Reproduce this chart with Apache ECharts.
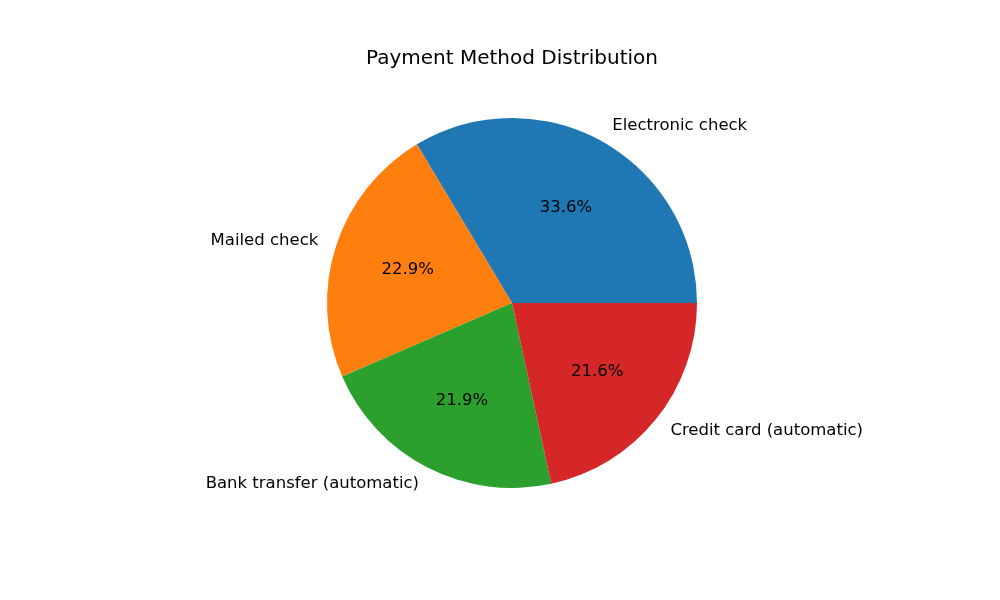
<!DOCTYPE html>
<html>
<head>
<meta charset="utf-8">
<script src="https://cdn.jsdelivr.net/npm/echarts@6/dist/echarts.min.js"></script>
<style>
  html, body { margin: 0; padding: 0; background: #fff; }
  #chart { width: 1000px; height: 600px; }
</style>
</head>
<body>
<div id="chart"></div>
<script>
// pie data
const categories = ['Electronic check', 'Mailed check', 'Bank transfer (automatic)', 'Credit card (automatic)']
const shares = [33.6, 22.9, 21.9, 21.6]
const colors = ['#1f77b4', '#ff7f0e', '#2ca02c', '#d62728']

const cx = 512, cy = 303, R = 185
const font = 'DejaVu Sans'

const chart = echarts.init(document.getElementById('chart'))

const pieData = categories.map((name, i) => ({
  name: name,
  value: shares[i],
  itemStyle: { color: colors[i] }
}))

chart.setOption({
  animation: false,
  title: {
    text: 'Payment Method Distribution',
    left: 507,
    top: 44,
    textAlign: 'center',
    textStyle: { fontFamily: font, fontSize: 20, fontWeight: 'normal', color: '#000' }
  },
  series: [
    {
      // wedges + outer labels
      type: 'pie',
      center: [cx, cy],
      radius: R,
      startAngle: 0,
      clockwise: false,
      avoidLabelOverlap: false,
      silent: true,
      data: pieData,
      label: {
        show: true,
        position: 'outside',
        fontFamily: font,
        fontSize: 16.5,
        color: '#000',
        distanceToLabelLine: 0
      },
      labelLine: { show: false, length: R * 0.1, length2: 0 }
    },
    {
      // invisible ring just to place the percentages at ~0.6R
      type: 'pie',
      center: [cx, cy],
      radius: 213,
      startAngle: 0,
      clockwise: false,
      avoidLabelOverlap: false,
      silent: true,
      data: categories.map((name, i) => ({ name: name, value: shares[i] })),
      itemStyle: { color: 'rgba(0,0,0,0)' },
      label: {
        show: true,
        position: 'inside',
        fontFamily: font,
        fontSize: 16.5,
        color: '#000',
        formatter: p => p.value.toFixed(1) + '%'
      },
      labelLine: { show: false }
    }
  ]
})
</script>
</body>
</html>
